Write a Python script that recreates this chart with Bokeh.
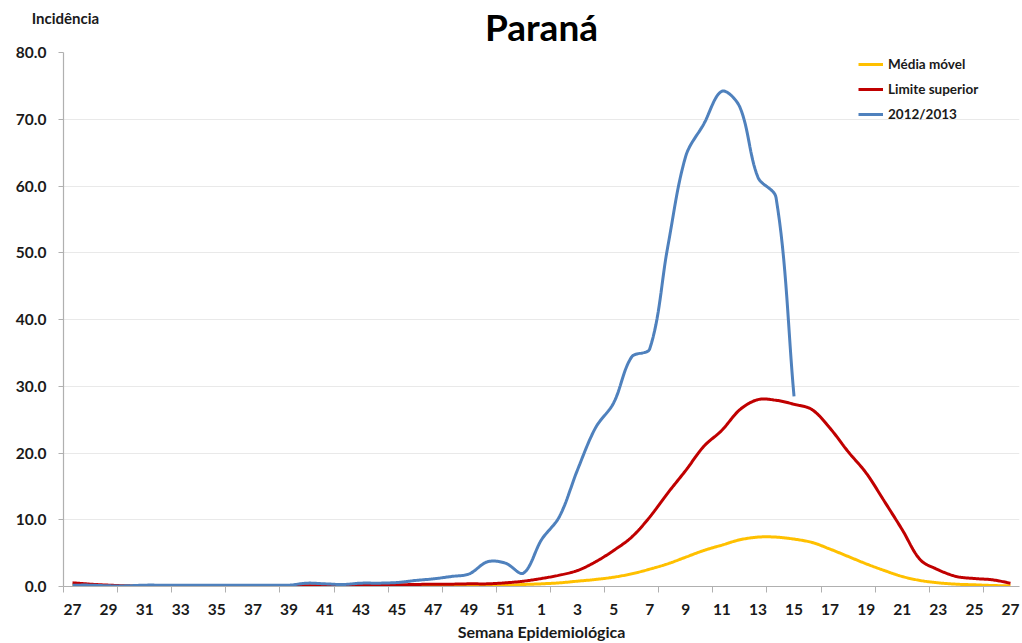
from bokeh.plotting import figure
from bokeh.models import FixedTicker, PrintfTickFormatter, Range1d, Legend, LinearAxis
from bokeh.embed import file_html
from bokeh.resources import INLINE
import math

# ---------------- data ----------------
weeks = [str(w) for w in range(27, 53)] + [str(w) for w in range(1, 28)]

media_movel = [0.1, 0.05, 0.05, 0.05, 0.05, 0.05, 0.05, 0.05, 0.05, 0.05, 0.05, 0.05, 0.05,
               0.05, 0.05, 0.05, 0.05, 0.05, 0.05, 0.05, 0.05, 0.05, 0.05, 0.1, 0.15, 0.3,
               0.4, 0.55, 0.8, 1.05, 1.4, 1.9, 2.6, 3.4, 4.4, 5.4, 6.2, 7.0, 7.4, 7.4, 7.1,
               6.6, 5.6, 4.5, 3.4, 2.4, 1.5, 0.9, 0.55, 0.35, 0.25, 0.15, 0.1]

limite_superior = [0.55, 0.35, 0.2, 0.1, 0.1, 0.1, 0.1, 0.1, 0.1, 0.1, 0.1, 0.1, 0.1,
                   0.1, 0.1, 0.1, 0.15, 0.2, 0.25, 0.3, 0.35, 0.35, 0.4, 0.4, 0.55, 0.8,
                   1.2, 1.7, 2.4, 3.7, 5.4, 7.4, 10.4, 14.0, 17.4, 21.0, 23.4, 26.5, 28.0,
                   27.9, 27.3, 26.5, 23.7, 20.2, 17.0, 12.8, 8.5, 4.0, 2.5, 1.5, 1.2, 1.0, 0.5]

serie_2012_2013 = [0.2, 0.2, 0.1, 0.1, 0.2, 0.2, 0.2, 0.2, 0.2, 0.2, 0.2, 0.2, 0.2,
                   0.5, 0.4, 0.3, 0.5, 0.5, 0.6, 0.9, 1.15, 1.5, 1.9, 3.7, 3.5, 2.0,
                   7.0, 10.5, 17.5, 23.8, 27.5, 34.4, 35.6, 50.9, 64.5, 69.3, 74.2, 71.8,
                   61.3, 58.3, 28.5]

y_ticks = [0, 10, 20, 30, 40, 50, 60, 70, 80]

# ------------- smoothing (Excel-like curve rendering) -------------
KX, KY = 18.04, 6.69  # approx. pixel scale per unit, used only for curve shape


def smooth(ys, steps=16):
    n = len(ys)
    P = [(i * KX, ys[i] * KY) for i in range(n)]

    def dist(a, b):
        return math.hypot(a[0] - b[0], a[1] - b[1])

    out_x, out_y = [], []
    for i in range(n - 1):
        p0 = P[i - 1] if i > 0 else P[i]
        p1, p2 = P[i], P[i + 1]
        p3 = P[i + 2] if i + 2 < n else P[i + 1]
        l01, l12, l23 = dist(p0, p1), dist(p1, p2), dist(p2, p3)
        f1 = l12 / (l01 + l12) / 3.0 if (l01 + l12) > 0 else 0
        f2 = l12 / (l12 + l23) / 3.0 if (l12 + l23) > 0 else 0
        c1 = (p1[0] + (p2[0] - p0[0]) * f1, p1[1] + (p2[1] - p0[1]) * f1)
        c2 = (p2[0] - (p3[0] - p1[0]) * f2, p2[1] - (p3[1] - p1[1]) * f2)
        for s in range(steps):
            t = s / steps
            mt = 1 - t
            bx = mt**3 * p1[0] + 3 * mt**2 * t * c1[0] + 3 * mt * t**2 * c2[0] + t**3 * p2[0]
            by = mt**3 * p1[1] + 3 * mt**2 * t * c1[1] + 3 * mt * t**2 * c2[1] + t**3 * p2[1]
            out_x.append(bx / KX)
            out_y.append(by / KY)
    out_x.append(P[-1][0] / KX)
    out_y.append(P[-1][1] / KY)
    return out_x, out_y


FONT = "Lato"
TXT = "#1a1a1a"

p = figure(width=1022, height=643, output_backend="svg", toolbar_location=None,
           x_range=Range1d(-0.5, 52.5), y_range=Range1d(0, 80), title=None,
           min_border_left=63, min_border_right=3, min_border_top=52, min_border_bottom=56)
p.outline_line_color = None
p.xgrid.grid_line_color = None
p.ygrid.grid_line_color = "#e9e9e9"
p.ygrid.grid_line_width = 1.2

# x axis
p.xaxis.ticker = FixedTicker(ticks=list(range(0, 53, 2)),
                             minor_ticks=[-0.5 + 3 * k for k in range(18)])
p.xaxis.major_label_overrides = {i: weeks[i] for i in range(0, 53, 2)}
p.xaxis.major_tick_out = 0
p.xaxis.major_tick_in = 0
p.xaxis.minor_tick_out = 6
p.xaxis.minor_tick_in = 0
p.xaxis.minor_tick_line_color = "#b0b0b0"
p.xaxis.axis_line_color = "#b0b0b0"
p.xaxis.axis_line_width = 1.2
p.xaxis.major_label_standoff = 11
p.xaxis.major_label_text_font = FONT
p.xaxis.major_label_text_font_style = "bold"
p.xaxis.major_label_text_font_size = "15.5px"
p.xaxis.major_label_text_color = TXT
p.xaxis.axis_label = "Semana Epidemiológica"
p.xaxis.axis_label_standoff = 4
p.xaxis.axis_label_text_font = FONT
p.xaxis.axis_label_text_font_style = "bold"
p.xaxis.axis_label_text_font_size = "16px"
p.xaxis.axis_label_text_color = TXT

# y axis
p.yaxis.ticker = FixedTicker(ticks=y_ticks)
p.yaxis.formatter = PrintfTickFormatter(format="%.1f")
p.yaxis.minor_tick_line_color = None
p.yaxis.major_tick_out = 5
p.yaxis.major_tick_in = 0
p.yaxis.major_tick_line_color = "#b0b0b0"
p.yaxis.axis_line_color = "#b0b0b0"
p.yaxis.axis_line_width = 1.2
p.yaxis.major_label_standoff = 12
p.yaxis.major_label_text_font = FONT
p.yaxis.major_label_text_font_style = "bold"
p.yaxis.major_label_text_font_size = "15.5px"
p.yaxis.major_label_text_color = TXT

# top axis carrying the unit caption (as a tick label) and the chart title (as axis label)
top = LinearAxis(ticker=FixedTicker(ticks=[-0.39]),
                 major_label_overrides={-0.39: "Incidência"},
                 axis_line_color=None, major_tick_line_color=None, minor_tick_line_color=None,
                 major_tick_out=0, major_tick_in=0, minor_tick_out=0, minor_tick_in=0,
                 major_label_standoff=26,
                 major_label_text_font=FONT, major_label_text_font_style="bold",
                 major_label_text_font_size="15px", major_label_text_color=TXT,
                 axis_label="Paraná", axis_label_standoff=-43,
                 axis_label_text_font=FONT, axis_label_text_font_style="bold",
                 axis_label_text_font_size="37px", axis_label_text_color="#000000")
p.add_layout(top, "above")

# lines
sx, sy = smooth(media_movel)
r1 = p.line(sx, sy, line_color="#FFC000", line_width=3)
sx, sy = smooth(limite_superior)
r2 = p.line(sx, sy, line_color="#C00000", line_width=3)
sx, sy = smooth(serie_2012_2013)
r3 = p.line(sx, sy, line_color="#4F81BD", line_width=3)

legend = Legend(items=[("Média móvel", [r1]), ("Limite superior", [r2]), ("2012/2013", [r3])],
                location=(795, 462), padding=0, margin=0, spacing=5,
                glyph_width=25, glyph_height=20, label_height=20, label_standoff=5,
                border_line_color=None, background_fill_alpha=0,
                label_text_font=FONT, label_text_font_style="bold",
                label_text_font_size="13.5px", label_text_color=TXT)
p.add_layout(legend)

open("out.html", "w").write(file_html(p, INLINE))
